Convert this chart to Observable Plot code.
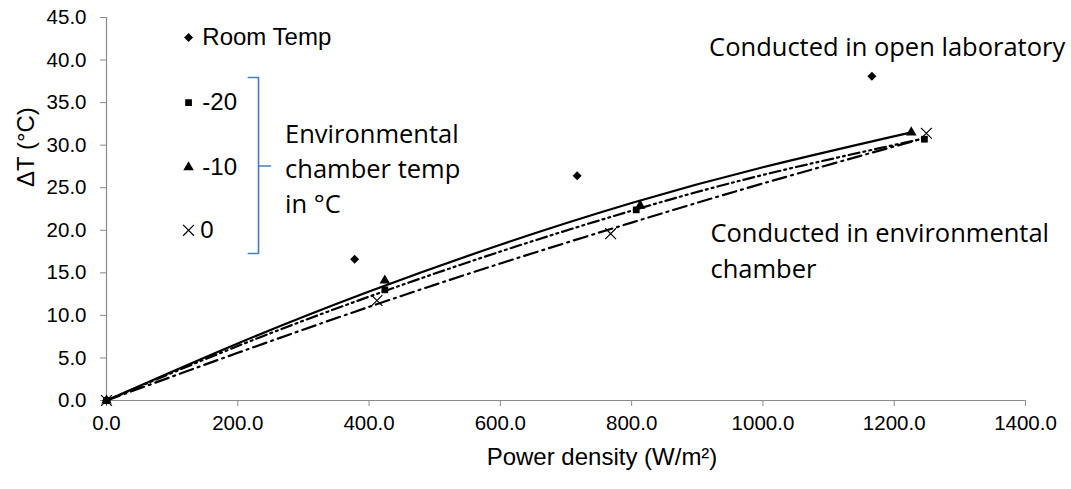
<!DOCTYPE html>
<html>
<head>
<meta charset="utf-8">
<script src="https://cdn.jsdelivr.net/npm/d3@7"></script>
<script src="https://cdn.jsdelivr.net/npm/@observablehq/plot@0.6"></script>
<style>
  html, body { margin: 0; padding: 0; background: #fff; }
  #chart svg { display: block; }
</style>
</head>
<body>
<div id="chart"></div>
<script>
// ---- data ----
const xTicks = [0, 200, 400, 600, 800, 1000, 1200, 1400];
const yTicks = [0, 5, 10, 15, 20, 25, 30, 35, 40, 45];

// measured points
const roomX = [0, 378, 717, 1166];
const roomY = [0, 16.6, 26.4, 38.1];
const m20X = [0, 424, 807, 1246];
const m20Y = [0, 13.0, 22.4, 30.7];
const m10X = [0, 424, 813, 1226];
const m10Y = [0, 14.1, 22.9, 31.5];
const z0X  = [0, 412, 768, 1249];
const z0Y  = [0, 11.75, 19.6, 31.4];

// trend curves
const m10TrendX = [0, 200, 400, 600, 800, 1000, 1226];
const m10TrendY = [0, 6.7, 12.8, 18.3, 23.2, 27.4, 31.5];
const m20TrendX = [0, 200, 400, 600, 800, 1000, 1246];
const m20TrendY = [0, 6.4, 12.2, 17.5, 22.3, 26.5, 30.8];
const z0TrendX  = [0, 200, 400, 600, 800, 1000, 1249];
const z0TrendY  = [0, 5.6, 11.0, 16.1, 20.9, 25.5, 30.9];

// legend entries
const legendLabels = ["Room Temp", "-20", "-10", "0"];
const legendSymbols = ["diamond", "square", "triangle", "times"];
const legendY = [42.65, 35.0, 27.4, 20.0];

// annotations
const envText = "Environmental\nchamber temp\nin °C";
const openText = "Conducted in open laboratory";
const chamberText = "Conducted in environmental\nchamber";

const toPts = (xs, ys) => xs.map((x, i) => ({x, y: ys[i]}));
const room = toPts(roomX, roomY);
const m20 = toPts(m20X, m20Y);
const m10 = toPts(m10X, m10Y);
const z0 = toPts(z0X, z0Y);
const m10T = toPts(m10TrendX, m10TrendY);
const m20T = toPts(m20TrendX, m20TrendY);
const z0T = toPts(z0TrendX, z0TrendY);

const legend = legendLabels.map((label, i) => ({label, symbol: legendSymbols[i], y: legendY[i]}));

// bracket shape in data units
const bracket = [
  {x: 216, y: 37.95}, {x: 231.6, y: 37.95}, {x: 231.6, y: 17.27}, {x: 216, y: 17.27}
];
const notch = [{x: 231.6, y: 27.55}, {x: 250, y: 27.55}];

const sansTick = "'Liberation Sans', Arial, sans-serif";
const sansNote = "'Open Sans', sans-serif";

const symStyle = (s) => {
  if (s === "diamond") return {symbol: "square", rotate: 45, r: 3.6, fill: "black", stroke: "none"};
  if (s === "square") return {symbol: "square", r: 3.8, fill: "black", stroke: "none"};
  if (s === "triangle") return {symbol: "triangle", r: 3.9, fill: "black", stroke: "none"};
  return {symbol: "times", r: 5, fill: "none", stroke: "black", strokeWidth: 1.2};
};

const chart = Plot.plot({
  width: 1071,
  height: 489,
  marginLeft: 106,
  marginRight: 46,
  marginTop: 17,
  marginBottom: 89,
  style: {fontFamily: sansTick, fontSize: "20.5px", color: "black", background: "white"},
  x: {domain: [0, 1400], ticks: xTicks, tickFormat: d3.format(".1f"), label: null},
  y: {domain: [0, 45], ticks: yTicks, tickFormat: d3.format(".1f"), label: null},
  marks: [
    Plot.axisX({ticks: xTicks, tickFormat: d3.format(".1f"), tickSize: 6, tickPadding: 9,
      stroke: "#8a8a8a", fill: "black", fontSize: 20.5, label: null}),
    Plot.axisY({ticks: yTicks, tickFormat: d3.format(".1f"), tickSize: 6, tickPadding: 14,
      stroke: "#8a8a8a", fill: "black", fontSize: 20.5, label: null}),
    Plot.ruleY([0], {stroke: "#8a8a8a", strokeWidth: 1.2}),
    Plot.ruleX([0], {stroke: "#8a8a8a", strokeWidth: 1.2}),
    // axis titles
    Plot.text(["Power density (W/m²)"], {frameAnchor: "bottom", dx: 36, dy: 64, fontSize: 24, fill: "black"}),
    Plot.text(["ΔT (°C)"], {frameAnchor: "left", dx: -80, dy: -22, rotate: -90, fontSize: 24, fill: "black"}),
    // trend lines
    Plot.line(m10T, {x: "x", y: "y", curve: "natural", stroke: "black", strokeWidth: 2.2}),
    Plot.line(m20T, {x: "x", y: "y", curve: "natural", stroke: "black", strokeWidth: 2.2, strokeDasharray: "11,4,2,4,2,4"}),
    Plot.line(z0T, {x: "x", y: "y", curve: "natural", stroke: "black", strokeWidth: 2.2, strokeDasharray: "14,5,2,5"}),
    // points
    Plot.dot(room, {x: "x", y: "y", ...symStyle("diamond")}),
    Plot.dot(m20, {x: "x", y: "y", ...symStyle("square")}),
    Plot.dot(m10, {x: "x", y: "y", ...symStyle("triangle")}),
    Plot.dot(z0, {x: "x", y: "y", ...symStyle("times")}),
    // legend
    ...legend.map(d => Plot.dot([d], {x: () => 125, y: "y", ...symStyle(d.symbol)})),
    Plot.text(legend, {x: d => d.symbol === "times" ? 143 : 146, y: "y", text: "label",
      textAnchor: "start", fontSize: 24, fill: "black"}),
    // bracket
    Plot.line(bracket, {x: "x", y: "y", stroke: "#4a7ebb", strokeWidth: 1.6, curve: "linear"}),
    Plot.line(notch, {x: "x", y: "y", stroke: "#4a7ebb", strokeWidth: 1.6}),
    // annotations
    Plot.text([envText], {x: 272, y: 27.5, textAnchor: "start", lineAnchor: "middle",
      lineHeight: 1.38, fontSize: 25.5, fontFamily: sansNote, fill: "black"}),
    Plot.text([openText], {x: 918, y: 41.4, textAnchor: "start", lineAnchor: "middle",
      fontSize: 25.5, fontFamily: sansNote, fill: "black"}),
    Plot.text([chamberText], {x: 920, y: 17.9, textAnchor: "start", lineAnchor: "middle",
      lineHeight: 1.45, fontSize: 25.5, fontFamily: sansNote, fill: "black"})
  ]
});
document.getElementById("chart").appendChild(chart);
</script>
</body>
</html>
